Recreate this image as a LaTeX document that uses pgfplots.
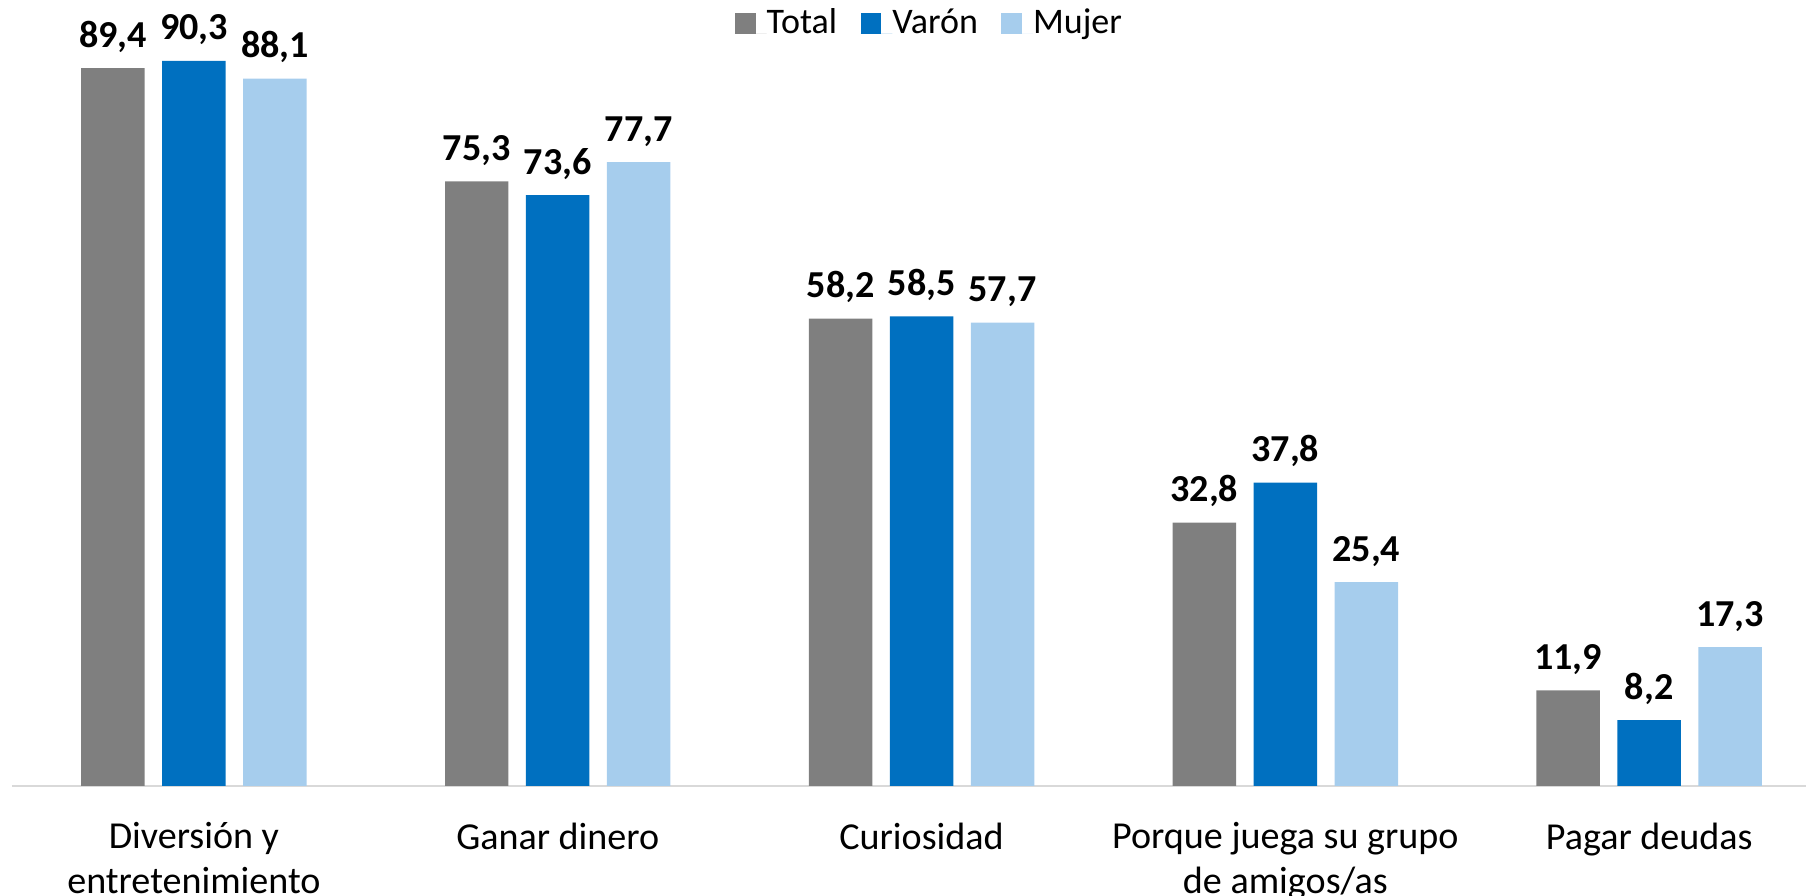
\documentclass[border=0pt]{standalone}
\usepackage{pgfplots}
\pgfplotsset{compat=1.18}
\usepackage{fontspec}
\setmainfont{Carlito}
\definecolor{cTotal}{HTML}{7F7F7F}
\definecolor{cVaron}{HTML}{0070C0}
\definecolor{cMujer}{HTML}{A6CDED}
\definecolor{cAxis}{HTML}{D9D9D9}
\begin{document}
\begin{tikzpicture}
\useasboundingbox (-4pt,-36.667pt) rectangle (598pt,262pt);
\begin{axis}[
  at={(0,0)}, anchor=south west,
  scale only axis, width=598pt, height=262pt,
  xmin=-0.5, xmax=4.431, ymin=0, ymax=97.9,
  ybar, bar width=0.1745,
  axis x line*=bottom, axis y line=none,
  x axis line style={draw=cAxis, line width=0.7pt, -},
  xtick={0,1,2,3,4},
  xticklabels={{Diversión y\\entretenimiento},{Ganar dinero},{Curiosidad},{Porque juega su grupo\\de amigos/as},{Pagar deudas}},
  major tick length=0pt,
  xticklabel style={font=\fontsize{12.7}{15}\selectfont, align=center, anchor=north, inner sep=0pt, yshift=-12pt},
  ytick=\empty,
  nodes near coords,
  nodes near coords style={font=\fontsize{12.7}{14}\selectfont\bfseries, anchor=base, inner sep=0pt, yshift=7pt, text=black},
  /pgf/number format/.cd, use comma, fixed, fixed zerofill, precision=1, assume math mode=true,
  /pgfplots/.cd,
  legend columns=3,
  legend style={at={(0.5108,1)}, anchor=north, yshift=-3.1pt, draw=none, fill=none, inner sep=0pt,
    font=\fontsize{12}{14}\selectfont, /tikz/every even column/.style={column sep=7.8pt},
    nodes={inner sep=0pt, text height=8pt, text depth=2pt}, cells={anchor=base west}},
  legend image code/.code={\fill[#1] (0pt,0pt) rectangle (6.9pt,6.9pt); \path (0pt,0pt) -- (10.6pt,0pt);},
]
\addplot[fill=cTotal, draw=none, bar shift=-0.2226] coordinates {(0,89.4) (1,75.3) (2,58.2) (3,32.8) (4,11.9)};
\addplot[fill=cVaron, draw=none, bar shift=0] coordinates {(0,90.3) (1,73.6) (2,58.5) (3,37.8) (4,8.2)};
\addplot[fill=cMujer, draw=none, bar shift=0.2226] coordinates {(0,88.1) (1,77.7) (2,57.7) (3,25.4) (4,17.3)};
\legend{Total, Varón, Mujer}
\end{axis}
\end{tikzpicture}
\end{document}
